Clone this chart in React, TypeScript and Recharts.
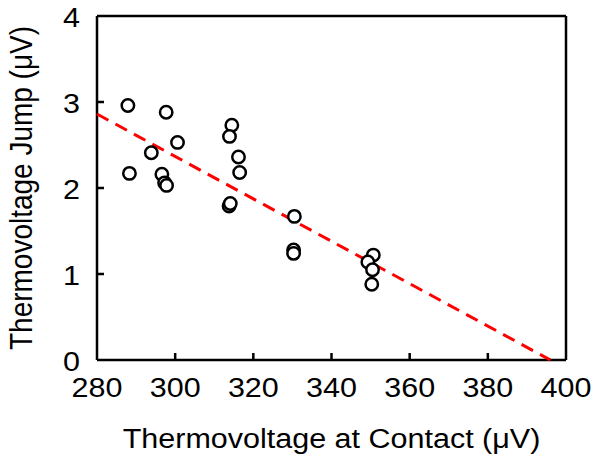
import React from 'react';
import { ScatterChart, Scatter, XAxis, YAxis } from 'recharts';

// measured points (x: thermovoltage at contact, y: jump), both in µV
const X_VALUES = [
  287.9, 288.3, 297.7, 293.9, 300.6, 296.6, 297.3, 297.8, 314.5, 313.9, 316.2,
  316.5, 313.8, 314.1, 330.5, 330.3, 330.3, 350.7, 349.3, 350.5, 350.3,
];
const Y_VALUES = [
  2.96, 2.17, 2.88, 2.41, 2.53, 2.16, 2.06, 2.03, 2.73, 2.6, 2.36,
  2.18, 1.79, 1.82, 1.67, 1.28, 1.24, 1.22, 1.14, 1.05, 0.88,
];

// linear fit end points
const FIT_X = [280, 396];
const FIT_Y = [2.86, 0];

const X_TICKS = [280, 300, 320, 340, 360, 380, 400];
const Y_TICKS = [0, 1, 2, 3, 4];
const X_MAX = X_TICKS[X_TICKS.length - 1];
const Y_MAX = Y_TICKS[Y_TICKS.length - 1];

const points = X_VALUES.map((x, i) => ({ x, y: Y_VALUES[i] }));
const fit = FIT_X.map((x, i) => ({ x, y: FIT_Y[i] }));

const W = 594;
const H = 462;
const PLOT = { left: 97, top: 16, right: 566, bottom: 360 };

const FONT = '"Liberation Sans", Arial, sans-serif';
const FONT_SIZE = 28;
const STRETCH = 1.09;
const TICK_LEN = 7;
const LINE_W = 2.5;

// x ticks; the tick at the right end also draws the right edge of the box
const XTick = ({ x, y, payload }: any) => {
  const v = payload.value;
  const inner = v !== X_TICKS[0] && v !== X_MAX;
  return (
    <g>
      {inner && <line x1={x} x2={x} y1={y} y2={y - TICK_LEN} stroke="#000" strokeWidth={LINE_W} />}
      {v === X_MAX && (
        <line x1={x} x2={x} y1={y} y2={y - (PLOT.bottom - PLOT.top)} stroke="#000" strokeWidth={LINE_W} />
      )}
      <g transform={`translate(${x},${y + 27})`}>
        <text
          transform={`scale(${STRETCH},1)`}
          textAnchor="middle"
          dominantBaseline="central"
          fontFamily={FONT}
          fontSize={FONT_SIZE}
          fill="#000"
        >
          {v}
        </text>
      </g>
    </g>
  );
};

// y ticks; the tick at the top also draws the top edge of the box
const YTick = ({ x, y, payload }: any) => {
  const v = payload.value;
  const inner = v !== Y_TICKS[0] && v !== Y_MAX;
  return (
    <g>
      {inner && <line x1={x} x2={x + TICK_LEN} y1={y} y2={y} stroke="#000" strokeWidth={LINE_W} />}
      {v === Y_MAX && (
        <line x1={x} x2={x + (PLOT.right - PLOT.left)} y1={y} y2={y} stroke="#000" strokeWidth={LINE_W} />
      )}
      <g transform={`translate(${x - 17},${y + 1})`}>
        <text
          transform={`scale(${STRETCH},1)`}
          textAnchor="end"
          dominantBaseline="central"
          fontFamily={FONT}
          fontSize={FONT_SIZE}
          fill="#000"
        >
          {v}
        </text>
      </g>
    </g>
  );
};

const XTitle = ({ viewBox }: any) => (
  <g transform={`translate(${viewBox.x + viewBox.width / 2},${viewBox.y + 78})`}>
    <text
      transform={`scale(${STRETCH},1)`}
      textAnchor="middle"
      dominantBaseline="central"
      fontFamily={FONT}
      fontSize={FONT_SIZE}
      fill="#000"
    >
      Thermovoltage at Contact (μV)
    </text>
  </g>
);

const YTitle = ({ viewBox }: any) => (
  <g transform={`translate(21,${viewBox.y + viewBox.height / 2}) rotate(-90)`}>
    <text
      transform={`scale(1,${STRETCH})`}
      textAnchor="middle"
      dominantBaseline="central"
      fontFamily={FONT}
      fontSize={FONT_SIZE}
      fill="#000"
    >
      Thermovoltage Jump (μV)
    </text>
  </g>
);

const OpenCircle = ({ cx, cy }: any) => (
  <circle cx={cx} cy={cy} r={6.2} fill="#fff" stroke="#000" strokeWidth={LINE_W} />
);

const frame = { stroke: '#000', strokeWidth: LINE_W };

export default function App() {
  return (
    <div style={{ position: 'absolute', left: 0, top: 0, width: W, height: H, background: '#fff' }}>
      <ScatterChart
        width={W}
        height={H}
        margin={{ top: PLOT.top, right: W - PLOT.right, bottom: 0, left: 0 }}
      >
        <XAxis
          dataKey="x"
          type="number"
          domain={[280, 400]}
          ticks={X_TICKS}
          height={H - PLOT.bottom}
          tickSize={0}
          tickMargin={0}
          tickLine={false}
          axisLine={frame}
          tick={<XTick />}
          interval={0}
          label={{ content: <XTitle /> }}
        />
        <YAxis
          dataKey="y"
          type="number"
          domain={[0, 4]}
          ticks={Y_TICKS}
          width={PLOT.left}
          tickSize={0}
          tickMargin={0}
          tickLine={false}
          axisLine={frame}
          tick={<YTick />}
          interval={0}
          label={{ content: <YTitle /> }}
        />
        <Scatter
          data={fit}
          line={{ stroke: '#ff0000', strokeWidth: 3, strokeDasharray: '13 8' }}
          shape={() => <g />}
          isAnimationActive={false}
        />
        <Scatter data={points} shape={<OpenCircle />} isAnimationActive={false} />
      </ScatterChart>
    </div>
  );
}
